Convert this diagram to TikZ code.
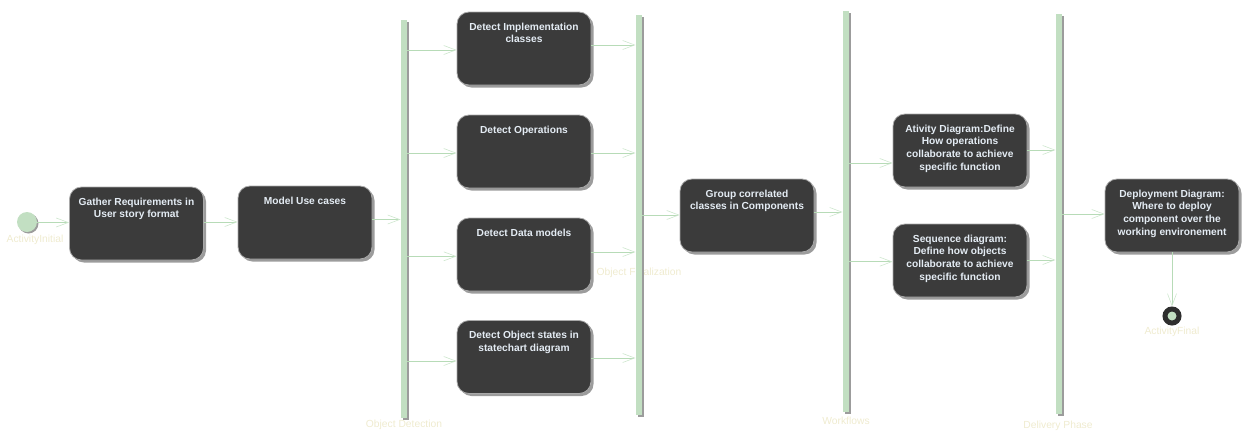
\documentclass[tikz,border=0pt]{standalone}
\usepackage{fontspec}
\setmainfont{Liberation Sans}
\usetikzlibrary{arrows.meta,shadows}
\definecolor{boxfill}{HTML}{3B3B3B}
\definecolor{boxborder}{HTML}{A9A9A9}
\definecolor{shadowgray}{HTML}{9C9C9C}
\definecolor{barfill}{HTML}{C2DFC2}
\definecolor{flowgreen}{HTML}{B7DBB7}
\definecolor{tipgreen}{HTML}{CDE6CD}
\definecolor{labelcream}{HTML}{EFEBCF}
\definecolor{boxtext}{HTML}{E4ECF4}
\definecolor{finaldark}{HTML}{2E2E2E}
\tikzset{
  actbox/.style={rectangle, rounded corners=12pt, fill=boxfill, draw=boxborder, line width=0.8pt,
    minimum width=134pt, minimum height=73pt, inner sep=0pt, text=boxtext,
    font=\fontsize{10.2}{12.8}\selectfont\bfseries,
    general shadow={fill=shadowgray, shadow xshift=2.5pt, shadow yshift=-2.5pt}},
  forkbar/.style={rectangle, fill=barfill, draw=none, minimum width=6.5pt, inner sep=0pt,
    general shadow={fill=shadowgray, shadow xshift=2pt, shadow yshift=-1.5pt}},
  flow/.style={draw=flowgreen, line width=0.8pt, -{Straight Barb[length=12pt,width=9pt,line width=0.6pt,color=tipgreen]}},
  tag/.style={text=labelcream, font=\fontsize{10.3}{12}\selectfont, inner sep=0pt},
  startdot/.style={circle, fill=barfill, minimum size=20pt, inner sep=0pt,
    general shadow={fill=shadowgray, shadow xshift=1.5pt, shadow yshift=-1.5pt}},
  enddot/.style={circle, fill=barfill, draw=finaldark, line width=5pt, minimum size=14pt, inner sep=0pt,
    general shadow={fill=shadowgray, shadow xshift=1.5pt, shadow yshift=-1.5pt}}
}
\newcommand{\boxtxt}[1]{\parbox[c][66pt][t]{130pt}{\centering\rule{0pt}{14.5pt}#1}}
\begin{document}
\begin{tikzpicture}[x=1pt,y=-1pt]
\useasboundingbox (0,0) rectangle (1250,437);

% labels first (bars are drawn over them)
\node[tag] (initlbl) at (35,240) {ActivityInitial};
\node[tag] (b1lbl) at (404,425) {Object Detection};
\node[tag] (b2lbl) at (639,273) {Object Finalization};
\node[tag] (b3lbl) at (846,420.5) {Workflows};
\node[tag] (b4lbl) at (1058,425.5) {Delivery Phase};
\node[tag] (finallbl) at (1172,331.5) {ActivityFinal};

% initial
\node[startdot] (init) at (27,222) {};

% activities
\node[actbox] (gather) at (136.5,223.5) {\boxtxt{Gather Requirements in\\User story format}};
\node[actbox] (model) at (305,222.5) {\boxtxt{Model Use cases}};
\node[actbox] (impl) at (524,48.5) {\boxtxt{Detect Implementation\\classes}};
\node[actbox] (ops) at (524,151.5) {\boxtxt{Detect Operations}};
\node[actbox] (data) at (524,254.5) {\boxtxt{Detect Data models}};
\node[actbox] (states) at (524,357) {\boxtxt{Detect Object states in\\statechart diagram}};
\node[actbox] (group) at (747,215.5) {\boxtxt{Group correlated\\classes in Components}};
\node[actbox] (ativ) at (960,150.5) {\boxtxt{Ativity Diagram:Define\\How operations\\collaborate to achieve\\specific function}};
\node[actbox] (seq) at (960,260.5) {\boxtxt{Sequence diagram:\\Define how objects\\collaborate to achieve\\specific function}};
\node[actbox] (deploy) at (1172,215.5) {\boxtxt{Deployment Diagram:\\Where to deploy\\component over the\\working environement}};

% fork / join bars
\node[forkbar, minimum height=398pt] (b1) at (404,219) {};
\node[forkbar, minimum height=400pt] (b2) at (639,215) {};
\node[forkbar, minimum height=401pt] (b3) at (846,211.5) {};
\node[forkbar, minimum height=400pt] (b4) at (1059,214) {};

% final
\node[enddot] (final) at (1172,316) {};

% flows
\draw[flow] (init.east |- 0,222.5) -- (gather.west |- 0,222.5);
\draw[flow] (gather.east |- 0,222) -- (model.west |- 0,222);
\draw[flow] (model.east |- 0,219.5) -- (b1.west |- 0,219.5);

\draw[flow] (b1.east |- 0,50) -- (impl.west |- 0,50);
\draw[flow] (b1.east |- 0,153) -- (ops.west |- 0,153);
\draw[flow] (b1.east |- 0,256.3) -- (data.west |- 0,256.3);
\draw[flow] (b1.east |- 0,361) -- (states.west |- 0,361);

\draw[flow] (impl.east |- 0,45) -- (b2.west |- 0,45);
\draw[flow] (ops.east |- 0,153) -- (b2.west |- 0,153);
\draw[flow] (data.east |- 0,252) -- (b2.west |- 0,252);
\draw[flow] (states.east |- 0,358) -- (b2.west |- 0,358);

\draw[flow] (b2.east |- 0,215) -- (group.west |- 0,215);
\draw[flow] (group.east |- 0,212) -- (b3.west |- 0,212);

\draw[flow] (b3.east |- 0,163) -- (ativ.west |- 0,163);
\draw[flow] (b3.east |- 0,261.7) -- (seq.west |- 0,261.7);

\draw[flow] (ativ.east |- 0,150) -- (b4.west |- 0,150);
\draw[flow] (seq.east |- 0,260) -- (b4.west |- 0,260);

\draw[flow] (b4.east |- 0,214) -- (deploy.west |- 0,214);
\draw[flow] (deploy.south) -- (final.north);
\end{tikzpicture}
\end{document}
